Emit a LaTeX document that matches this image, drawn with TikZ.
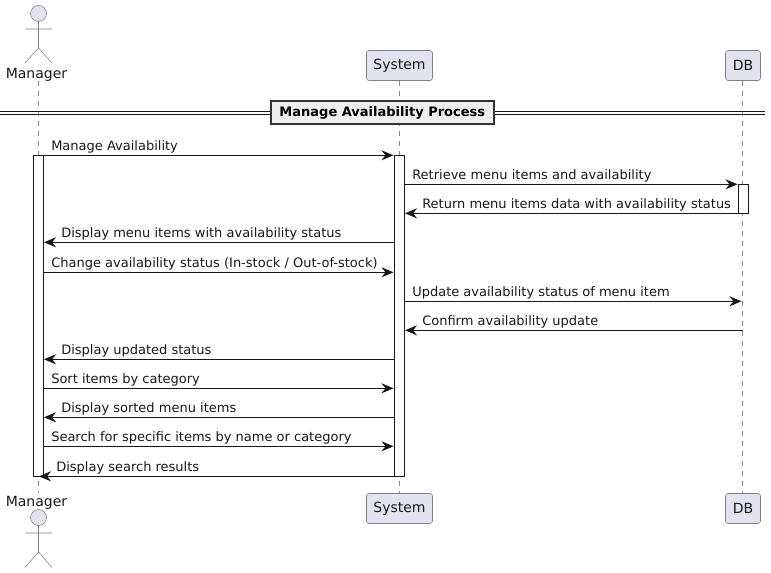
\documentclass[tikz,border=0pt]{standalone}
\usepackage{fontspec}
\setmainfont{DejaVu Sans}
\usetikzlibrary{arrows.meta}
\definecolor{partfill}{HTML}{E2E2F0}
\definecolor{partline}{HTML}{7F7F85}
\definecolor{lifeline}{HTML}{8C8C8C}
\definecolor{ink}{HTML}{181818}
\definecolor{divfill}{HTML}{EEEEEE}
\definecolor{divline}{HTML}{333333}
\tikzset{
  x=0.75pt,y=-0.75pt,
  part/.style={draw=partline,fill=partfill,rounded corners=1.9pt,line width=0.4pt,minimum height=22.5pt,inner sep=0pt,font=\fontsize{10.5}{12}\selectfont,text=ink,anchor=center},
  lifel/.style={draw=lifeline,line width=0.4pt,dash pattern=on 3.75pt off 3.75pt},
  actorline/.style={draw=partline,line width=0.4pt},
  bar/.style={draw=ink,fill=white,line width=0.75pt,inner sep=0pt,outer sep=0pt},
  msg/.style={draw=ink,line width=0.75pt,-{Stealth[length=9pt,width=7.5pt,inset=3pt]}},
  lbl/.style={font=\fontsize{9.75}{12}\selectfont,text=ink,anchor=base west,inner sep=0pt},
  actname/.style={font=\fontsize{10.5}{12}\selectfont,text=ink,anchor=center,inner sep=0pt},
}
\begin{document}
\begin{tikzpicture}
\useasboundingbox (0,0) rectangle (771,573);
% lifelines
\coordinate (mt) at (38.5,81); \coordinate (mb) at (38.5,493);
\coordinate (st) at (399.5,81); \coordinate (sb) at (399.5,493);
\coordinate (dt) at (742.5,81); \coordinate (db) at (742.5,493);
\draw[lifel] (mt) -- (mb);
\draw[lifel] (st) -- (sb);
\draw[lifel] (dt) -- (db);
% participants
\node[part,minimum width=49.5pt] (sys1) at (399.5,65.5) {\raisebox{-0.5pt}{System}};
\node[part,minimum width=26.25pt] (db1) at (743,65.5) {\raisebox{-0.5pt}{DB}};
\node[part,minimum width=49.5pt] (sys2) at (399.5,508.5) {\raisebox{-0.5pt}{System}};
\node[part,minimum width=26.25pt] (db2) at (743,508.5) {\raisebox{-0.5pt}{DB}};
% actors
\draw[actorline,fill=partfill] (38.5,13.5) circle (6pt);
\draw[actorline] (38.5,21.7) -- (38.5,48) (25,29) -- (52,29) (38.5,48) -- (25,63) (38.5,48) -- (52,63);
\node[actname] (mgr1) at (36.5,74.5) {Manager};
\draw[actorline,fill=partfill] (38.5,517.5) circle (6pt);
\draw[actorline] (38.5,525.7) -- (38.5,552) (25,533) -- (52,533) (38.5,552) -- (25,567.5) (38.5,552) -- (52,567.5);
\node[actname] (mgr2) at (36.5,502.5) {Manager};
% divider
\draw[ink,line width=0.75pt] (0,111.5) -- (765,111.5) (0,114.5) -- (765,114.5);
\node[draw=divline,line width=1.5pt,fill=divfill,minimum width=167pt,minimum height=17pt,inner sep=0pt,font=\fontsize{9.75}{12}\selectfont\bfseries,text=black] (div) at (382.3,112.7) {\raisebox{-0.4pt}{Manage Availability Process}\hspace{8.6pt}};
% activations
\node[bar,minimum width=7.5pt,minimum height=240.75pt] (ma) at (38.5,315.7) {};
\node[bar,minimum width=7.5pt,minimum height=240.75pt] (sa) at (399.5,315.7) {};
\node[bar,minimum width=7.5pt,minimum height=21.75pt] (da) at (743.5,198.8) {};
% messages
\foreach \n/\xa/\xb/\y/\tx/\txt in {
  1/43.5/393.5/155.3/51/{Manage Availability},
  2/404.5/737.5/184.3/412/{Retrieve menu items and availability},
  3/738.5/405/213.3/422/{Return menu items data with availability status},
  4/394.5/44/242.3/61/{Display menu items with availability status},
  5/43.5/393.5/272.3/51/{Change availability status (In-stock / Out-of-stock)},
  6/404.5/741.5/301.3/412/{Update availability status of menu item},
  7/742.5/405/330.3/422/{Confirm availability update},
  8/394.5/44/359.3/61/{Display updated status},
  9/43.5/393.5/388.3/51/{Sort items by category},
  10/394.5/44/417.3/61/{Display sorted menu items},
  11/43.5/393.5/446.3/51/{Search for specific items by name or category},
  12/394.5/39/476.3/56/{Display search results}}{
  \coordinate (a\n) at (\xa,\y);
  \coordinate (b\n) at (\xb,\y);
  \draw[msg] (a\n) -- (b\n);
  \node[lbl] (t\n) at (\tx,\y-4.6) {\txt};
}
\end{tikzpicture}
\end{document}
